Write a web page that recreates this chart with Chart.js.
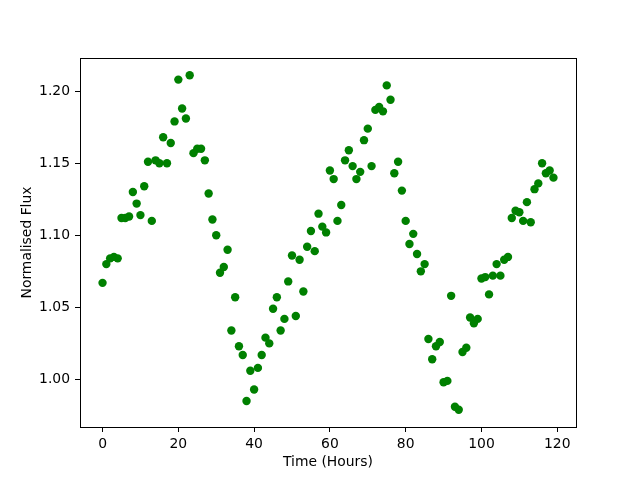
<!DOCTYPE html>
<html>
<head>
<meta charset="utf-8">
<script src="https://cdn.jsdelivr.net/npm/chart.js@4/dist/chart.umd.min.js"></script>
<style>
  html, body { margin: 0; padding: 0; background: #fff; }
  canvas { display: block; }
</style>
</head>
<body>
<canvas id="flux-chart" width="640" height="480"></canvas>
<script>
// time in hours
var hours = [];
for (var i = 0; i < 120; i++) hours.push(i);

var flux = [
  1.067, 1.080, 1.084, 1.085, 1.084, 1.112, 1.112, 1.113, 1.130, 1.122,
  1.114, 1.134, 1.151, 1.110, 1.152, 1.150, 1.168, 1.150, 1.164, 1.179,
  1.208, 1.188, 1.181, 1.211, 1.157, 1.160, 1.160, 1.152, 1.129, 1.111,
  1.100, 1.074, 1.078, 1.090, 1.034, 1.057, 1.023, 1.017, 0.985, 1.006,
  0.993, 1.008, 1.017, 1.029, 1.025, 1.049, 1.057, 1.034, 1.042, 1.068,
  1.086, 1.044, 1.083, 1.061, 1.092, 1.103, 1.089, 1.115, 1.106, 1.102,
  1.145, 1.139, 1.110, 1.121, 1.152, 1.159, 1.148, 1.139, 1.144, 1.166,
  1.174, 1.148, 1.187, 1.189, 1.186, 1.204, 1.194, 1.143, 1.151, 1.131,
  1.110, 1.094, 1.101, 1.087, 1.075, 1.080, 1.028, 1.014, 1.023, 1.026,
  0.998, 0.999, 1.058, 0.981, 0.979, 1.019, 1.022, 1.043, 1.039, 1.042,
  1.070, 1.071, 1.059, 1.072, 1.080, 1.072, 1.083, 1.085, 1.112, 1.117,
  1.116, 1.110, 1.123, 1.109, 1.132, 1.136, 1.150, 1.143, 1.145, 1.140
];

var xTicks = [0, 20, 40, 60, 80, 100, 120];
var yTicks = [1.00, 1.05, 1.10, 1.15, 1.20];

var points = hours.map(function (h, i) { return {x: h, y: flux[i]}; });

var font = {family: 'DejaVu Sans', size: 13.9};

var boxPlugin = {
  id: 'box',
  afterDraw: function (chart) {
    var a = chart.chartArea;
    var c = chart.ctx;
    c.save();
    c.strokeStyle = '#000';
    c.lineWidth = 1;
    c.strokeRect(Math.round(a.left) + 0.5, Math.round(a.top) + 0.5,
                 Math.round(a.right - a.left), Math.round(a.bottom - a.top));
    c.restore();
  }
};

var ctx = document.getElementById('flux-chart').getContext('2d');
var fluxChart = new Chart(ctx, {
  type: 'scatter',
  data: {
    datasets: [{
      data: points,
      backgroundColor: '#008000',
      borderColor: '#008000',
      pointRadius: 4.2,
      pointHoverRadius: 4.2,
      borderWidth: 0
    }]
  },
  options: {
    responsive: false,
    animation: false,
    layout: {padding: {top: 58, right: 64, left: 0, bottom: 0}},
    plugins: {legend: {display: false}, tooltip: {enabled: false}},
    scales: {
      x: {
        type: 'linear',
        min: -5.95,
        max: 124.95,
        afterBuildTicks: function (scale) {
          scale.ticks = xTicks.map(function (v) { return {value: v}; });
        },
        afterFit: function (scale) { scale.height = 53; },
        grid: {drawOnChartArea: false, drawTicks: true, tickLength: 5, color: '#000'},
        border: {display: false},
        ticks: {color: '#000', font: font, padding: 4, maxRotation: 0,
                callback: function (v) { return String(v); }},
        title: {display: true, text: 'Time (Hours)', color: '#000', font: font,
                padding: {top: 0, bottom: 9}}
      },
      y: {
        type: 'linear',
        min: 0.967,
        max: 1.223,
        afterBuildTicks: function (scale) {
          scale.ticks = yTicks.map(function (v) { return {value: v}; });
        },
        afterFit: function (scale) { scale.width = 80; },
        grid: {drawOnChartArea: false, drawTicks: true, tickLength: 5, color: '#000'},
        border: {display: false},
        ticks: {color: '#000', font: font, padding: 5,
                callback: function (v) { return Number(v).toFixed(2); }},
        title: {display: true, text: 'Normalised Flux', color: '#000', font: font,
                padding: {top: 19, bottom: 0}}
      }
    }
  },
  plugins: [boxPlugin]
});
</script>
</body>
</html>
